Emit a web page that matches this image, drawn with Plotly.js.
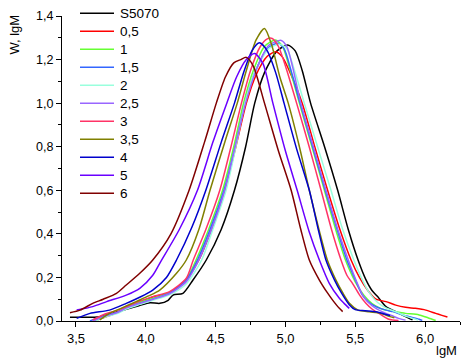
<!DOCTYPE html>
<html>
<head>
<meta charset="utf-8">
<script src="https://cdn.plot.ly/plotly-3.0.1.min.js"></script>
<style>html,body{margin:0;padding:0;background:#fff;}#chart{width:472px;height:363px;}</style>
</head>
<body>
<div id="chart"></div>
<script>
// Series names (legend labels)
const seriesNames = ["S5070", "0,5", "1", "1,5", "2", "2,5", "3", "3,5", "4", "5", "6"];

// lgM values and W values
const x_S5070 = [3.457,3.55,3.67,3.76,3.86,3.95,4.03,4.10,4.16,4.195,4.266,4.338,4.433,4.54,4.635,4.715,4.78,4.85,4.94,5.017,5.07,5.12,5.18,5.28,5.374,5.45,5.52,5.576,5.62,5.66,5.72,5.79,5.86,5.91];
const y_S5070 = [0.017,0.017,0.02,0.035,0.054,0.07,0.084,0.081,0.095,0.119,0.127,0.188,0.28,0.42,0.60,0.80,1.0,1.14,1.24,1.267,1.24,1.15,1.0,0.80,0.60,0.42,0.28,0.19,0.14,0.112,0.066,0.043,0.02,0.005];

const x_05 = [3.63,3.72,3.80,3.86,3.95,4.05,4.17,4.29,4.38,4.47,4.565,4.645,4.72,4.79,4.87,4.93,4.98,5.04,5.12,5.21,5.302,5.39,5.47,5.53,5.59,5.648,5.72,5.79,5.86,5.93,6.005,6.076,6.12,6.16];
const y_05 = [0.0,0.02,0.04,0.06,0.085,0.11,0.13,0.19,0.28,0.42,0.60,0.80,1.0,1.13,1.215,1.236,1.21,1.13,1.0,0.80,0.60,0.42,0.28,0.20,0.14,0.10,0.089,0.073,0.063,0.058,0.05,0.035,0.026,0.018];

const x_1 = [3.62,3.70,3.80,3.86,3.95,4.05,4.17,4.29,4.36,4.45,4.55,4.63,4.70,4.77,4.85,4.93,4.98,5.03,5.10,5.19,5.279,5.36,5.43,5.50,5.56,5.62,5.68,5.72,5.79,5.86,5.957,6.02,6.05,6.076];
const y_1 = [0.0,0.02,0.04,0.06,0.085,0.105,0.13,0.19,0.28,0.42,0.60,0.80,1.0,1.15,1.26,1.29,1.26,1.16,1.0,0.80,0.60,0.42,0.28,0.18,0.12,0.08,0.058,0.05,0.042,0.035,0.028,0.015,0.008,0.002];

const x_15 = [3.60,3.68,3.80,3.86,3.95,4.05,4.17,4.29,4.37,4.46,4.56,4.64,4.71,4.78,4.87,4.945,4.99,5.04,5.105,5.195,5.285,5.37,5.44,5.50,5.55,5.60,5.648,5.72,5.77,5.83,5.886,5.957,5.98];
const y_15 = [0.0,0.02,0.04,0.06,0.08,0.10,0.128,0.188,0.28,0.42,0.60,0.80,1.0,1.14,1.25,1.275,1.25,1.15,1.0,0.80,0.60,0.42,0.28,0.19,0.12,0.085,0.066,0.05,0.043,0.03,0.02,0.008,0.003];

const x_2 = [3.64,3.72,3.80,3.86,3.95,4.05,4.17,4.29,4.40,4.48,4.575,4.645,4.71,4.78,4.88,4.96,5.01,5.06,5.135,5.23,5.326,5.41,5.49,5.55,5.60,5.66,5.72,5.80,5.87,5.95];
const y_2 = [0.0,0.02,0.035,0.055,0.075,0.095,0.12,0.17,0.28,0.42,0.60,0.80,1.0,1.14,1.25,1.27,1.25,1.16,1.0,0.80,0.60,0.42,0.28,0.19,0.13,0.085,0.06,0.04,0.02,0.005];

const x_25 = [3.62,3.70,3.80,3.86,3.95,4.05,4.17,4.29,4.38,4.47,4.565,4.64,4.715,4.79,4.88,4.97,5.01,5.05,5.11,5.20,5.29,5.375,5.45,5.51,5.56,5.62,5.70,5.76,5.81,5.86];
const y_25 = [0.0,0.02,0.04,0.06,0.08,0.10,0.125,0.18,0.28,0.42,0.60,0.80,1.0,1.15,1.265,1.288,1.26,1.17,1.0,0.80,0.60,0.42,0.28,0.18,0.11,0.07,0.04,0.025,0.012,0.004];

const x_3 = [3.62,3.70,3.80,3.86,3.95,4.05,4.17,4.29,4.34,4.43,4.53,4.61,4.685,4.75,4.82,4.87,4.905,4.95,5.01,5.08,5.17,5.255,5.33,5.398,5.44,5.48,5.53,5.576,5.62,5.67,5.74,5.81];
const y_3 = [0.005,0.03,0.05,0.066,0.09,0.112,0.135,0.196,0.28,0.42,0.60,0.80,1.0,1.15,1.26,1.295,1.297,1.26,1.15,1.0,0.80,0.60,0.42,0.28,0.21,0.173,0.12,0.081,0.055,0.035,0.008,0.002];

const x_35 = [3.67,3.74,3.83,3.93,4.02,4.10,4.22,4.29,4.38,4.46,4.57,4.655,4.72,4.79,4.85,4.90,4.96,5.02,5.10,5.171,5.24,5.30,5.36,5.41,5.46,5.52,5.60,5.68,5.75,5.78];
const y_35 = [0.005,0.035,0.06,0.089,0.115,0.142,0.219,0.28,0.42,0.60,0.83,1.0,1.15,1.29,1.343,1.27,1.12,1.0,0.80,0.60,0.42,0.28,0.19,0.13,0.08,0.05,0.042,0.035,0.02,0.015];

const x_4 = [3.505,3.6,3.74,3.86,3.96,4.05,4.148,4.22,4.33,4.43,4.54,4.635,4.70,4.76,4.814,4.87,4.93,4.99,5.08,5.171,5.235,5.29,5.35,5.40,5.457,5.50,5.57,5.65,5.72,5.75];
const y_4 = [0.012,0.035,0.05,0.081,0.11,0.142,0.20,0.28,0.43,0.60,0.82,1.0,1.14,1.24,1.277,1.24,1.14,1.0,0.79,0.60,0.42,0.28,0.19,0.13,0.075,0.052,0.047,0.042,0.03,0.025];

const x_5 = [3.505,3.62,3.72,3.86,3.957,4.05,4.10,4.24,4.37,4.48,4.58,4.65,4.72,4.78,4.84,4.91,5.0,5.084,5.17,5.243,5.314,5.386,5.42,5.457];
const y_5 = [0.05,0.066,0.089,0.119,0.15,0.21,0.265,0.42,0.60,0.82,1.0,1.12,1.20,1.228,1.18,1.0,0.78,0.60,0.41,0.28,0.173,0.104,0.081,0.058];

const x_6 = [3.457,3.53,3.62,3.695,3.79,3.86,3.957,4.05,4.18,4.31,4.42,4.505,4.57,4.63,4.68,4.72,4.77,4.85,4.95,5.041,5.11,5.171,5.243,5.30,5.338,5.386,5.41];
const y_6 = [0.038,0.05,0.081,0.10,0.127,0.165,0.219,0.28,0.40,0.60,0.82,1.0,1.12,1.185,1.20,1.21,1.17,1.0,0.78,0.60,0.42,0.28,0.188,0.13,0.096,0.058,0.043];

const xSeries = [x_S5070, x_05, x_1, x_15, x_2, x_25, x_3, x_35, x_4, x_5, x_6];
const ySeries = [y_S5070, y_05, y_1, y_15, y_2, y_25, y_3, y_35, y_4, y_5, y_6];

// styles
const lineColors = ["#000000","#ff0000","#66ff33","#3366ff","#99ffdd","#9966ff","#ff3366","#808000","#0000cc","#6a00ff","#800000"];

const FONT = "Liberation Sans, Arial, Helvetica, sans-serif";
const W = 472, H = 363;
const M = {l: 62, r: 12, t: 16, b: 42};
const plotW = W - M.l - M.r, plotH = H - M.t - M.b;
const px2paperX = px => (px - M.l) / plotW;
const px2paperY = py => (H - M.b - py) / plotH;

const traces = seriesNames.map((name, i) => ({
  type: "scatter",
  mode: "lines",
  name: name,
  x: xSeries[i],
  y: ySeries[i],
  line: {color: lineColors[i], width: 1.5, shape: "spline", smoothing: 0.7}
}));

// Legend drawn as paper-positioned line samples + labels (Origin-style layout)
const legendShapes = [];
const legendAnnots = [];
seriesNames.forEach((name, i) => {
  const py = 13.3 + 18 * i;
  legendShapes.push({
    type: "line", xref: "paper", yref: "paper",
    x0: px2paperX(80), x1: px2paperX(114), y0: px2paperY(py), y1: px2paperY(py),
    line: {color: lineColors[i], width: 1.5}
  });
  legendAnnots.push({
    text: name, xref: "paper", yref: "paper",
    x: px2paperX(118), y: px2paperY(py + 0.5),
    xanchor: "left", yanchor: "middle", showarrow: false,
    font: {family: FONT, size: 13.5, color: "#000"}
  });
});

const layout = {
  width: W,
  height: H,
  margin: M,
  paper_bgcolor: "#ffffff",
  plot_bgcolor: "#ffffff",
  separators: ", ",
  font: {family: FONT, size: 12.5, color: "#000"},
  showlegend: false,
  xaxis: {
    range: [3.4, 6.25],
    tick0: 3.5, dtick: 0.5, tickformat: ".1f",
    ticks: "outside", ticklen: 5, tickwidth: 1, tickcolor: "#000",
    minor: {dtick: 0.25, ticks: "outside", ticklen: 3, tickcolor: "#000", showgrid: false},
    showline: true, linecolor: "#000", linewidth: 1,
    showgrid: false, zeroline: false,
    tickfont: {family: FONT, size: 13, color: "#000"}
  },
  yaxis: {
    range: [0, 1.4],
    tick0: 0, dtick: 0.2, tickformat: ".1f",
    ticks: "outside", ticklen: 5, tickwidth: 1, tickcolor: "#000",
    minor: {dtick: 0.1, ticks: "outside", ticklen: 3, tickcolor: "#000", showgrid: false},
    showline: true, linecolor: "#000", linewidth: 1,
    showgrid: false, zeroline: false,
    tickfont: {family: FONT, size: 12.5, color: "#000"}
  },
  shapes: legendShapes,
  annotations: [
    {text: "W, lgM", xref: "paper", yref: "paper", x: -0.12, y: 0.94,
     xanchor: "center", yanchor: "middle", textangle: -90, showarrow: false,
     font: {family: FONT, size: 13, color: "#000"}},
    {text: "lgM", xref: "paper", yref: "paper", x: 0.967, y: -0.098,
     xanchor: "center", yanchor: "middle", showarrow: false,
     font: {family: FONT, size: 13, color: "#000"}}
  ].concat(legendAnnots)
};

Plotly.newPlot("chart", traces, layout, {displayModeBar: false, staticPlot: true});
</script>
</body>
</html>
